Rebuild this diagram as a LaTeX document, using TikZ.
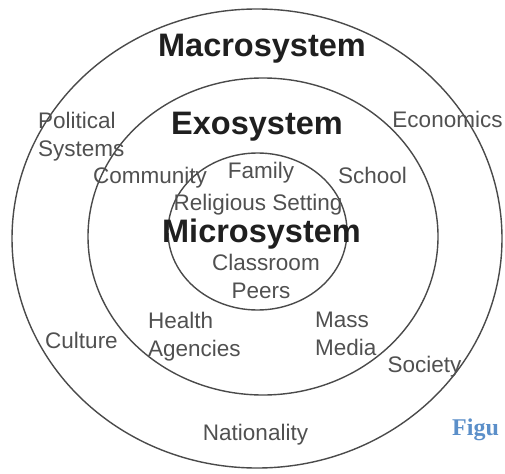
\documentclass[tikz,border=0pt]{standalone}
\usepackage{fontspec}
\setmainfont{Liberation Sans}
\newfontfamily\figfont{Liberation Serif}
\usetikzlibrary{positioning}
\definecolor{ringgray}{HTML}{4A4A4A}
\definecolor{labelgray}{HTML}{505050}
\definecolor{figblue}{HTML}{5B8FC9}

\begin{document}
\begin{tikzpicture}[
            x=1pt, y=-1pt,
            ring/.style={
                draw=ringgray,
                line width=1.4pt
            },
            level/.style={
                font=\fontsize{32.5}{39}\selectfont\bfseries,
                text=black!88,
                inner sep=0pt,
                anchor=base
            },
            setting/.style={
                font=\fontsize{22.5}{28}\selectfont,
                text=labelgray,
                inner sep=0pt,
                anchor=base
            },
            block/.style={
                setting,
                align=left,
                anchor=north west
            }
        ]

            \useasboundingbox (0,0) rectangle (505,473);

            % the three rings
            \draw[ring] (257,238.5) ellipse [x radius=245, y radius=229.5];
            \draw[ring] (263,236.5) ellipse [x radius=175, y radius=158.5];
            \draw[ring] (257.5,231.5) ellipse [x radius=89.5, y radius=78.5];

            % macrosystem
            \node[level] (macro) at (262,57) {Macrosystem};
            \node[block] (political) at (38,112) {Political\\Systems};
            \node[setting] (economics) at (447.5,128) {Economics};
            \node[setting] (culture) at (81.5,348) {Culture};
            \node[setting] (society) at (424.5,372) {Society};
            \node[setting] (nationality) at (255.5,440) {Nationality};

            % exosystem
            \node[level] (exo) at (257,135) {Exosystem};
            \node[setting] (community) at (150,183) {Community};
            \node[setting] (school) at (372.5,183) {School};
            \node[block] (health) at (148,312) {Health\\Agencies};
            \node[block] (media) at (315,312) {Mass\\Media};

            % microsystem
            \node[setting] (family) at (261,178) {Family};
            \node[setting] (religious) at (258,210) {Religious Setting};
            \node[level] (micro) at (261.5,242) {Microsystem};
            \node[setting] (classroom) at (266,270) {Classroom};
            \node[setting] (peers) at (261,298) {Peers};

            % caption at the edge
            \node[inner sep=0pt, anchor=base west, text=figblue,
                font=\figfont\fontsize{24}{29}\selectfont\bfseries]
                (caption) at (452,435) {Figu};

        \end{tikzpicture}
\end{document}
